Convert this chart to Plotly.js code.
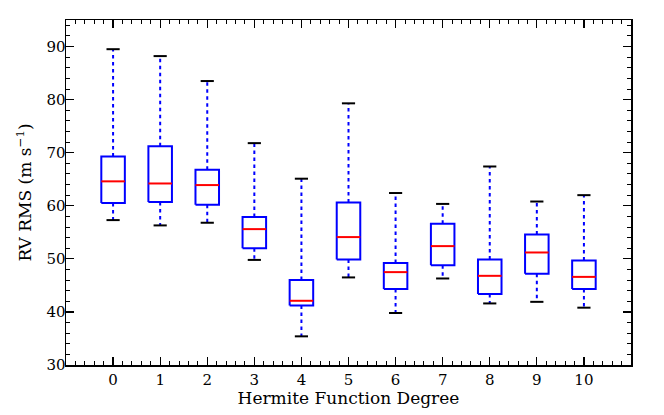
<!DOCTYPE html>
<html><head><meta charset="utf-8">
<script src="https://cdn.plot.ly/plotly-3.0.1.min.js"></script>
<style>html,body{margin:0;padding:0;background:#fff}#c{width:664px;height:415px}</style>
</head><body><div id="c"></div>
<script>
const degrees = [0,1,2,3,4,5,6,7,8,9,10];
const whiskerLow = [57.3,56.3,56.8,49.8,35.4,46.5,39.8,46.3,41.6,41.9,40.8];
const q1 =         [60.5,60.7,60.2,52.0,41.2,49.9,44.3,48.8,43.4,47.2,44.3];
const medians =    [64.6,64.2,63.9,55.6,42.1,54.1,47.5,52.4,46.8,51.2,46.6];
const q3 =         [69.3,71.2,66.8,57.9,46.0,60.6,49.2,56.6,49.9,54.6,49.7];
const whiskerHigh =[89.5,88.2,83.5,71.8,65.1,79.3,62.4,60.35,67.4,60.8,62.0];
const tickLabels = ['0','1','2','3','4','5','6','7','8','9','10'];

const bw = 0.25, cw = 0.14;
const boxX=[],boxY=[],medX=[],medY=[],whX=[],whY=[],capX=[],capY=[];
degrees.forEach((d,i)=>{
  boxX.push(d-bw,d+bw,d+bw,d-bw,d-bw,null);
  boxY.push(q1[i],q1[i],q3[i],q3[i],q1[i],null);
  medX.push(d-bw,d+bw,null); medY.push(medians[i],medians[i],null);
  whX.push(d,d,null,d,d,null); whY.push(q3[i],whiskerHigh[i],null,q1[i],whiskerLow[i],null);
  capX.push(d-cw,d+cw,null,d-cw,d+cw,null); capY.push(whiskerHigh[i],whiskerHigh[i],null,whiskerLow[i],whiskerLow[i],null);
});
const traces = [
  {x:whX,y:whY,mode:'lines',line:{color:'#0000ff',width:2,dash:'3.5px,3.5px'},hoverinfo:'skip'},
  {x:capX,y:capY,mode:'lines',line:{color:'#000',width:2},hoverinfo:'skip'},
  {x:boxX,y:boxY,mode:'lines',line:{color:'#0000ff',width:2},hoverinfo:'skip'},
  {x:medX,y:medY,mode:'lines',line:{color:'#ff0000',width:2},hoverinfo:'skip'}
];
const fnt = {family:'DejaVu Serif, serif',size:15,color:'#000'};
const tfnt = {family:'DejaVu Serif, serif',size:17,color:'#000'};
const layout = {
  width:664,height:415,showlegend:false,
  margin:{l:66,r:33,t:20,b:50},
  paper_bgcolor:'#fff',plot_bgcolor:'#fff',
  font:fnt,
  xaxis:{range:[-1,11],tickvals:degrees,ticktext:tickLabels,ticks:'inside',ticklen:8,tickwidth:1.2,tickcolor:'#000',
    showline:true,linecolor:'#000',linewidth:1.5,mirror:'ticks',showgrid:false,zeroline:false,
    minor:{dtick:0.2,tick0:0,ticks:'inside',ticklen:4,tickcolor:'#000',tickwidth:1},
    tickfont:fnt,title:{text:'Hermite Function Degree',font:tfnt,standoff:4}},
  yaxis:{range:[30,95],dtick:10,tick0:0,ticks:'inside',ticklen:8,tickwidth:1.2,tickcolor:'#000',
    showline:true,linecolor:'#000',linewidth:1.5,mirror:'ticks',showgrid:false,zeroline:false,
    ticklabelstandoff:-4,
    minor:{dtick:2,ticks:'inside',ticklen:4,tickcolor:'#000',tickwidth:1},
    tickfont:fnt,title:{text:'RV RMS (m s<sup>−1</sup>)',font:tfnt,standoff:10}}
};
Plotly.newPlot('c',traces,layout,{staticPlot:true,displayModeBar:false});
</script></body></html>
